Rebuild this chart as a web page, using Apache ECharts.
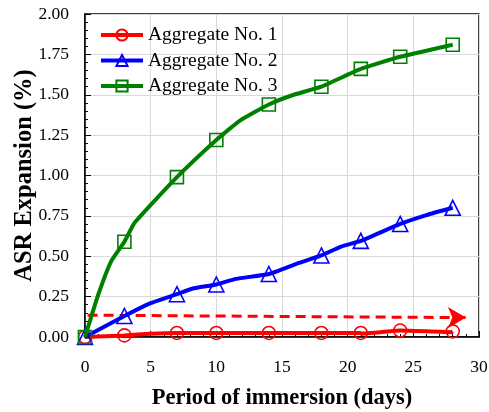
<!DOCTYPE html>
<html>
<head>
<meta charset="utf-8">
<script src="https://cdn.jsdelivr.net/npm/echarts@6/dist/echarts.min.js"></script>
<style>
html,body{margin:0;padding:0;background:#fff;}
#chart{width:489px;height:412px;}
</style>
</head>
<body>
<div id="chart"></div>
<script>
// measured days (markers)
var days = [0, 3, 7, 10, 14, 18, 21, 24, 28];
var agg1 = [0, 0.01, 0.025, 0.025, 0.025, 0.025, 0.025, 0.04, 0.035];
var agg2 = [0, 0.13, 0.265, 0.325, 0.39, 0.505, 0.595, 0.70, 0.80];
var agg3 = [0, 0.59, 0.99, 1.22, 1.44, 1.55, 1.66, 1.735, 1.81];
// extra points of the drawn curves (no marker)
var agg1Curve = [[5, 0.02], [21, 0.02], [22.5, 0.03], [27.9, 0.03]];
var agg2Curve = [[5, 0.21], [8.2, 0.30], [11.5, 0.36], [16, 0.45], [19.5, 0.56], [26, 0.755]];
var agg3Curve = [[1, 0.26], [2, 0.47], [3.8, 0.71], [11.8, 1.34], [15.9, 1.50]];
// dashed arrow
var arrowX = [0.2, 29.0];
var arrowY = [0.135, 0.12];
var names = ['Aggregate No. 1', 'Aggregate No. 2', 'Aggregate No. 3'];

var FONT = 'Liberation Serif';

function build(vals, curve){
    var out = [];
    for(var i=0;i<days.length;i++){
        out.push({value:[days[i], vals[i]]});
    }
    for(var j=0;j<curve.length;j++){
        out.push({value:curve[j], symbol:'none'});
    }
    out.sort(function(a,b){ return a.value[0]-b.value[0]; });
    return out;
}

function lineSeries(name, vals, curve, color, symbol, size, z){
    return {
        name: name,
        type: 'line',
        data: build(vals, curve),
        symbol: symbol,
        symbolSize: size,
        smooth: 0.15,
        z: z,
        lineStyle: {color: color, width: 4},
        itemStyle: {color: 'rgba(255,255,255,0)', borderColor: color, borderWidth: 1.6},
        emphasis: {disabled: true}
    };
}

var arrowData = [
    {value:[arrowX[0], arrowY[0]], symbol:'none'},
    {value:[arrowX[1], arrowY[1]], symbol:'arrow', symbolSize:[16,18], symbolRotate:-90}
];

var myChart = echarts.init(document.getElementById('chart'));
var option = {
    animation: false,
    backgroundColor: '#fff',
    grid: {
        left: 85, right: 10, top: 14, bottom: 75,
        outerBoundsMode: 'none',
        containLabel: false,
        show: true, borderColor: '#000', borderWidth: 1.5, backgroundColor: 'transparent'
    },
    legend: {
        data: names,
        orient: 'vertical',
        left: 99,
        top: 25,
        padding: 0,
        itemWidth: 42,
        itemHeight: 14,
        itemGap: 5.5,
        lineStyle: {width: 4},
        textStyle: {fontFamily: FONT, fontSize: 19.5, color: '#000'}
    },
    xAxis: {
        type: 'value',
        min: 0, max: 30, interval: 5,
        name: 'Period of immersion (days)',
        nameLocation: 'middle',
        nameGap: 50,
        nameMoveOverlap: false,
        nameTextStyle: {fontFamily: FONT, fontSize: 22.5, fontWeight: 'bold', color: '#000'},
        axisLine: {show: true, onZero: false, lineStyle: {color: '#000', width: 1.5}},
        axisTick: {show: true, inside: true, length: 6, lineStyle: {color: '#000'}},
        minorTick: {show: true, splitNumber: 5, length: 3, lineStyle: {color: '#000'}},
        axisLabel: {fontFamily: FONT, fontSize: 17.5, color: '#000', margin: 21},
        splitLine: {show: true, lineStyle: {color: '#d9d9d9', width: 1}}
    },
    yAxis: {
        type: 'value',
        min: 0, max: 2, interval: 0.25,
        name: 'ASR Expansion (%)',
        nameLocation: 'middle',
        nameGap: 48,
        nameMoveOverlap: false,
        nameTextStyle: {fontFamily: FONT, fontSize: 24.5, fontWeight: 'bold', color: '#000'},
        axisLine: {show: true, onZero: false, lineStyle: {color: '#000', width: 1.5}},
        axisTick: {show: true, inside: true, length: 6, lineStyle: {color: '#000'}},
        minorTick: {show: true, splitNumber: 5, length: 3, lineStyle: {color: '#000'}},
        axisLabel: {
            fontFamily: FONT, fontSize: 17.5, color: '#000', margin: 16,
            formatter: function(v){ return v.toFixed(2); }
        },
        splitLine: {show: true, lineStyle: {color: '#d9d9d9', width: 1}}
    },
    series: [
        {
            name: 'limit',
            type: 'line',
            data: arrowData,
            z: 1,
            lineStyle: {color: '#ff0000', width: 3, type: [10, 6]},
            itemStyle: {color: '#ff0000'},
            emphasis: {disabled: true}
        },
        lineSeries(names[0], agg1, agg1Curve, '#ff0000', 'circle', 13, 2),
        lineSeries(names[1], agg2, agg2Curve, '#0000ff', 'triangle', 15, 3),
        lineSeries(names[2], agg3, agg3Curve, '#008000', 'rect', 13, 4)
    ]
};
myChart.setOption(option, true);
</script>
</body>
</html>
